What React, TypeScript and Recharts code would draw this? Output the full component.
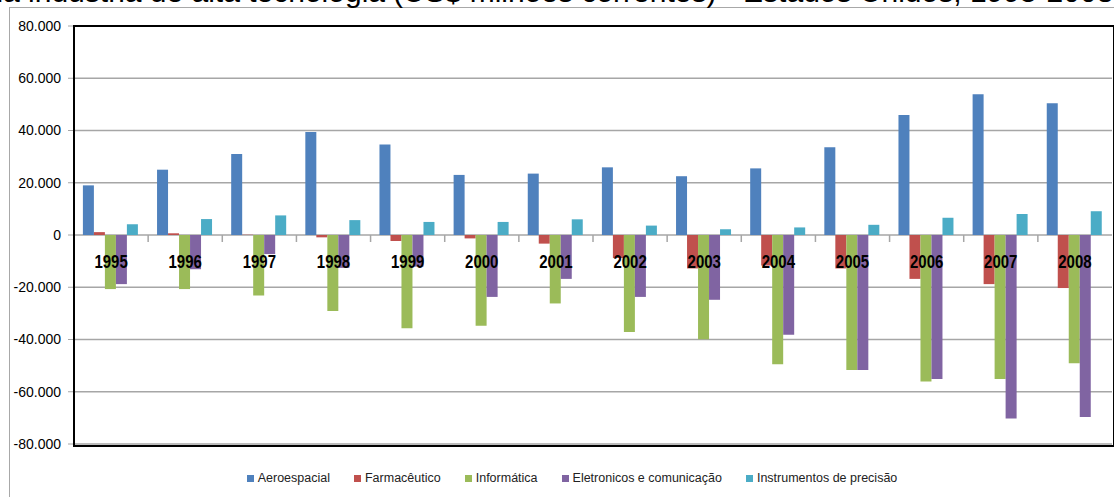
import { BarChart, Bar, XAxis, YAxis, CartesianGrid, Legend } from "recharts";

// Balança comercial da indústria de alta tecnologia, EUA 1995-2008 (US$ milhões)
const years = ["1995", "1996", "1997", "1998", "1999", "2000", "2001", "2002", "2003", "2004", "2005", "2006", "2007", "2008"];
const aeroespacial = [19000, 25000, 31000, 39400, 34600, 23000, 23500, 25900, 22500, 25500, 33600, 45900, 53900, 50400];
const farmaceutico = [1100, 650, 100, -900, -2300, -1300, -3300, -8800, -12800, -11700, -12800, -16800, -18800, -20300];
const informatica = [-20700, -20700, -23200, -29100, -35700, -34700, -26200, -37100, -39900, -49500, -51700, -56100, -55100, -49100];
const eletronicos = [-18800, -13100, -7300, -12600, -12100, -23700, -16800, -23700, -24800, -38200, -51700, -55100, -70200, -69700];
const instrumentos = [4100, 6100, 7500, 5700, 5000, 5000, 6000, 3600, 2200, 2900, 3900, 6600, 8000, 9100];
const yTicks = [80000, 60000, 40000, 20000, 0, -20000, -40000, -60000, -80000];

const series = [
  { key: "aero", name: "Aeroespacial", color: "#4F81BD" },
  { key: "farma", name: "Farmacêutico", color: "#C0504D" },
  { key: "info", name: "Informática", color: "#9BBB59" },
  { key: "elet", name: "Eletronicos e comunicação", color: "#8064A2" },
  { key: "inst", name: "Instrumentos de precisão", color: "#4BACC6" },
];

const data = years.map((year, i) => ({
  year,
  aero: aeroespacial[i],
  farma: farmaceutico[i],
  info: informatica[i],
  elet: eletronicos[i],
  inst: instrumentos[i],
}));

const W = 1114;
const H = 497;
const PLOT_LEFT = 74;
const PLOT_TOP = 26;
const PLOT_W = 1038;
const PLOT_H = 418;
const ZERO_Y = PLOT_TOP + PLOT_H / 2;
const BAND = PLOT_W / years.length;
const FONT = "'Liberation Sans', Arial, sans-serif";

const fmt = (v: number) =>
  v === 0 ? "0" : (v < 0 ? "-" : "") + Math.abs(v).toLocaleString("de-DE");

// rótulos dos anos ficam logo abaixo da linha do zero, como no Excel
function YearTick(props: any) {
  const { x, payload, index } = props;
  return (
    <g>
      {index > 0 && (
        <line x1={x - BAND / 2} x2={x - BAND / 2} y1={ZERO_Y} y2={ZERO_Y + 7} stroke="#a6a6a6" strokeWidth={1.5} />
      )}
      <text
        x={x}
        y={ZERO_Y + 33}
        textAnchor="middle"
        fontFamily={FONT}
        fontWeight="bold"
        fontSize={15}
        fill="#000"
        transform={`translate(0 ${ZERO_Y + 33}) scale(1 1.2) translate(0 ${-(ZERO_Y + 33)})`}
      >
        {payload.value}
      </text>
    </g>
  );
}

function LegendBox() {
  return (
    <div style={{ display: "flex", justifyContent: "center", gap: 24, fontFamily: FONT, fontSize: 12.5, color: "#222" }}>
      {series.map((s) => (
        <div key={s.key} style={{ display: "flex", alignItems: "center" }}>
          <span style={{ width: 7, height: 7, background: s.color, marginRight: 4, display: "inline-block" }} />
          {s.name}
        </div>
      ))}
    </div>
  );
}

export default function App() {
  return (
    <div style={{ position: "fixed", left: 0, top: 0, width: W, height: H, overflow: "hidden", background: "#fff" }}>
      <div style={{ position: "absolute", left: 9, top: 7, width: 1200, height: 600, border: "1px solid #a8a8a8" }} />
      <svg width={W} height={20} style={{ position: "absolute", left: 0, top: 0 }}>
        <text x={385} y={2} textAnchor="end" fontFamily={FONT} fontSize={30} fill="#000">
          Balança comercial da indústria de alta tecnologia
        </text>
        <text x={393} y={2} fontFamily={FONT} fontSize={30} fill="#000">
          (US$ milhões correntes) - Estados Unidos, 1995-2008
        </text>
      </svg>
      <div style={{ position: "absolute", left: 0, top: 0 }}>
        <BarChart
          width={W}
          height={H}
          data={data}
          margin={{ top: PLOT_TOP, right: W - PLOT_LEFT - PLOT_W, bottom: H - PLOT_TOP - PLOT_H - 1, left: 0 }}
          barCategoryGap="12%"
          barGap={0}
        >
          <CartesianGrid vertical={false} stroke="#a6a6a6" strokeWidth={1.5} />
          <YAxis
            width={PLOT_LEFT}
            domain={[-80000, 80000]}
            ticks={yTicks}
            tickFormatter={fmt}
            axisLine={false}
            tickLine={{ stroke: "#a6a6a6" }}
            tickSize={6}
            tickMargin={7}
            tick={{ fontFamily: FONT, fontSize: 14, fill: "#000" }}
          />
          {series.map((s) => (
            <Bar key={s.key} dataKey={s.key} name={s.name} fill={s.color} isAnimationActive={false} />
          ))}
          <XAxis
            dataKey="year"
            height={1}
            axisLine={false}
            tickLine={false}
            interval={0}
            tick={(p: any) => <YearTick {...p} />}
          />
          <Legend
            verticalAlign="middle"
            align="center"
            layout="horizontal"
            content={<LegendBox />}
            wrapperStyle={{ top: 471, left: 9, width: 1126 }}
          />
        </BarChart>
      </div>
      <div
        style={{
          position: "absolute",
          left: PLOT_LEFT - 1,
          top: PLOT_TOP - 1,
          width: PLOT_W,
          height: PLOT_H,
          border: "2px solid #000",
          pointerEvents: "none",
        }}
      />
    </div>
  );
}
